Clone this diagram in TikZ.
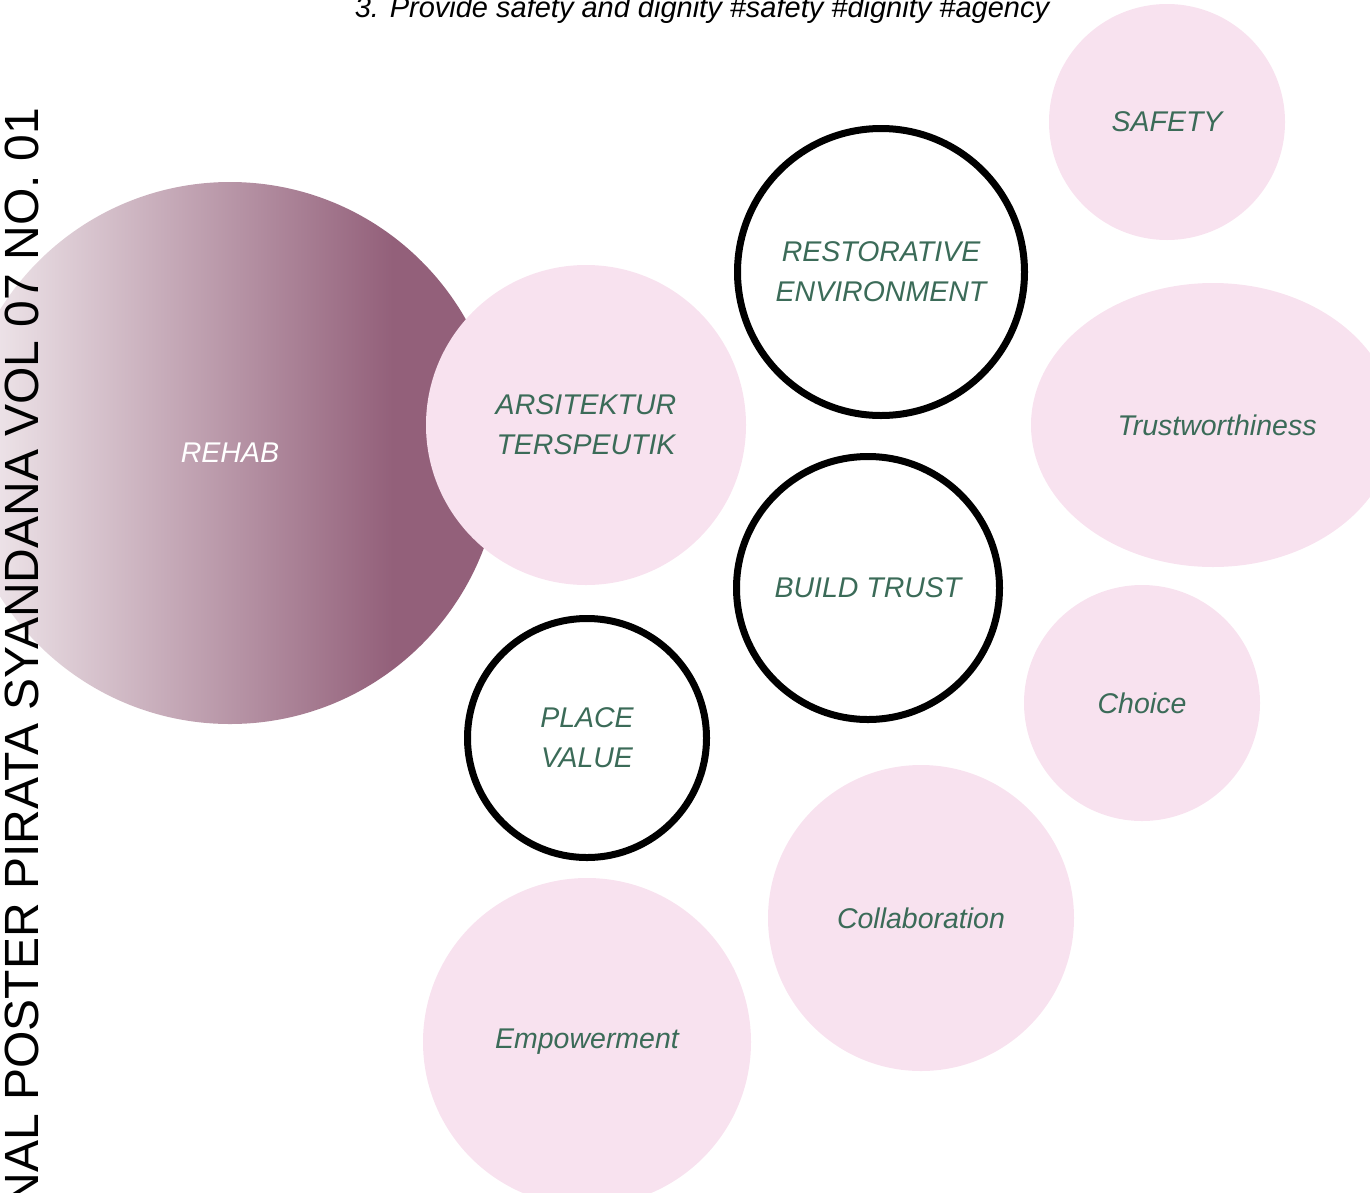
\documentclass[tikz,border=0pt]{standalone}
\usepackage{fontspec}
\setmainfont{Liberation Sans}
\usetikzlibrary{shapes.geometric}
\definecolor{pinkbg}{HTML}{F8E2EF}
\definecolor{lbl}{HTML}{3B6B58}
\definecolor{mauve}{HTML}{93607A}
\definecolor{mauvelight}{HTML}{F5EFF2}
\pgfdeclarehorizontalshading{rehabshade}{100bp}{color(0bp)=(mauvelight); color(25bp)=(mauvelight); color(65bp)=(mauve); color(100bp)=(mauve)}
\begin{document}
\begin{tikzpicture}[x=1pt,y=-1pt,
  lblfont/.style={font=\itshape\fontsize{28.5}{40}\selectfont},
  pinkc/.style={circle, fill=pinkbg, text=lbl, lblfont, align=center, inner sep=0pt},
  ringc/.style={circle, draw=black, line width=7pt, fill=white, text=lbl, lblfont, align=center, inner sep=0pt}]
\useasboundingbox (0,0) rectangle (1370,1192);
\clip (0,0) rectangle (1370,1192);
% title
\node[font=\itshape\fontsize{29}{34}\selectfont, anchor=base, inner sep=0pt] (title) at (702,17) {3. Provide safety and dignity \#safety \#dignity \#agency};
% REHAB
\node[circle, minimum size=542pt, inner sep=0pt, text=white, lblfont, shading=rehabshade] (rehab) at (230,453) {REHAB};
% vertical text
\node[rotate=90, anchor=base east, font=\fontsize{48}{48}\selectfont, inner sep=0pt] (vert) at (38,108) {NAL POSTER PIRATA SYANDANA VOL 07 NO. 01};
% circles
\node[pinkc, minimum size=320pt] (ars) at (586,425) {ARSITEKTUR\\TERSPEUTIK};
\node[ringc, minimum size=287pt] (rest) at (881,272) {RESTORATIVE\\ENVIRONMENT};
\node[pinkc, minimum size=236pt] (safety) at (1167,122) {SAFETY};
\node[ellipse, fill=pinkbg, text=lbl, lblfont, inner sep=0pt, minimum width=364pt, minimum height=284pt] (trust) at (1213,425) {\hspace*{8pt}Trustworthiness};
\node[ringc, minimum size=263pt] (build) at (868,588) {BUILD TRUST};
\node[pinkc, minimum size=236pt] (choice) at (1142,703) {Choice};
\node[ringc, minimum size=239pt] (place) at (587,738) {PLACE\\VALUE};
\node[pinkc, minimum size=306pt] (collab) at (921,918) {Collaboration};
\node[pinkc, minimum size=328pt] (empower) at (587,1042) {Empowerment};
\end{tikzpicture}
\end{document}
